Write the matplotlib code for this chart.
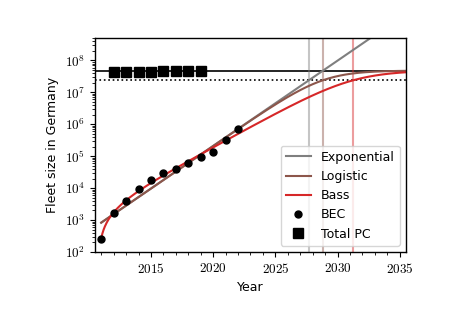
import numpy as np
import matplotlib
matplotlib.use('Agg')
import matplotlib.pyplot as plt
from matplotlib.ticker import FuncFormatter, MultipleLocator, LogLocator

plt.rcParams['mathtext.fontset'] = 'cm'
plt.rcParams['axes.linewidth'] = 1.0

# BEC fleet data
bec_years = [2011, 2012, 2013, 2014, 2015, 2016, 2017, 2018, 2019, 2020, 2021, 2022]
bec_fleet = [250, 1700, 3900, 9300, 17800, 30000, 40000, 60000, 95000, 133000, 330000, 690000]

# total passenger cars
pc_years = [2012, 2013, 2014, 2015, 2016, 2017, 2018, 2019]
pc_fleet = [4.29e7, 4.34e7, 4.39e7, 4.45e7, 4.51e7, 4.58e7, 4.65e7, 4.71e7]

# fitted model parameters
K = 4.8e7          # saturation
N0 = 830.0         # exp/logistic value in 2011
r = 0.615          # growth rate
bass_ts = 2010.75  # bass start year
bass_p = 2.1e-5
bass_q = 0.49

t = np.linspace(2011, 2035.5, 500)
exp_curve = N0 * np.exp(r * (t - 2011))
t0_log = 2011 + np.log(K / N0 - 1) / r
log_curve = K / (1 + np.exp(-r * (t - t0_log)))
a = bass_p + bass_q
e = np.exp(-a * (t - bass_ts))
bass_curve = K * (1 - e) / (1 + (bass_q / bass_p) * e)

t_half_exp = 2011 + np.log(K / 2 / N0) / r
t_half_bass = bass_ts + np.log(bass_q / bass_p) / a

fig = plt.figure(figsize=(4.73, 3.15), dpi=100)
ax = fig.add_axes([0.2008, 0.2, 0.6575, 0.679])

ax.axhline(K, color='k', lw=1.2)
ax.axhline(K / 2, color='k', lw=1.2, ls=':')
ax.axvline(t_half_exp, color='tab:gray', lw=1.5, alpha=0.45)
ax.axvline(t0_log, color='tab:brown', lw=1.5, alpha=0.45)
ax.axvline(t_half_bass, color='tab:red', lw=1.5, alpha=0.45)

ax.plot(t, exp_curve, color='tab:gray', lw=1.5, label='Exponential')
ax.plot(t, log_curve, color='tab:brown', lw=1.5, label='Logistic')
ax.plot(t, bass_curve, color='tab:red', lw=1.5, label='Bass')
ax.plot(bec_years, bec_fleet, 'o', color='k', ms=5, label='BEC')
ax.plot(pc_years, pc_fleet, 's', color='k', ms=6.5, label='Total PC')

ax.set_yscale('log')
ax.set_xlim(2010.5, 2035.5)
ax.set_ylim(1e2, 5e8)
ax.yaxis.set_major_locator(LogLocator(base=10, numticks=20))
ax.yaxis.set_minor_locator(LogLocator(base=10, subs=np.arange(2, 10), numticks=20))
ax.yaxis.set_major_formatter(FuncFormatter(lambda y, pos: r'$10^{%d}$' % round(np.log10(y))))
ax.xaxis.set_major_locator(MultipleLocator(5))
ax.xaxis.set_minor_locator(MultipleLocator(1))
ax.xaxis.set_major_formatter(FuncFormatter(lambda x, pos: r'$%d$' % x))
ax.tick_params(labelsize=9.5)
ax.set_xlabel('Year', fontsize=9)
ax.set_ylabel('Fleet size in Germany', fontsize=9)
ax.legend(loc='lower right', fontsize=9)

plt.savefig('out.png', dpi=100)
